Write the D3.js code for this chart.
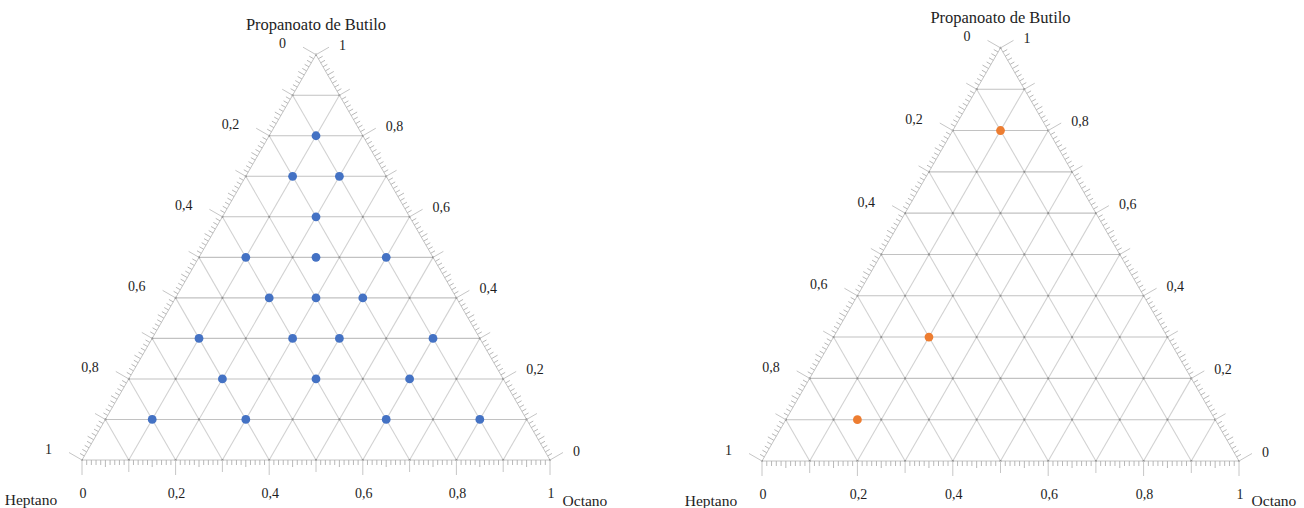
<!DOCTYPE html>
<html>
<head>
<meta charset="utf-8">
<script src="https://cdn.jsdelivr.net/npm/d3@7"></script>
<style>
  html, body { margin: 0; padding: 0; background: #fff; }
  svg { display: block; }
  text { font-family: "Liberation Serif", "Times New Roman", serif; fill: #1e1e1e; }
</style>
</head>
<body>
<svg id="chart" width="1304" height="508"></svg>
<script>
// Component names and tick labels
const apexName = "Propanoato de Butilo";
const leftName = "Heptano";
const rightName = "Octano";
const tickValues = [0, 0.2, 0.4, 0.6, 0.8, 1];
const tickLabels = ["0", "0,2", "0,4", "0,6", "0,8", "1"];

// Composition set A (mole fractions)
const setA_heptano    = [0.1, 0.2, 0.1, 0.2, 0.4, 0.25, 0.1, 0.4, 0.3, 0.2, 0.6, 0.4, 0.3, 0.1, 0.6, 0.4, 0.2, 0.8, 0.6, 0.3, 0.1];
const setA_octano     = [0.1, 0.1, 0.2, 0.2, 0.1, 0.25, 0.4, 0.2, 0.3, 0.4, 0.1, 0.3, 0.4, 0.6, 0.2, 0.4, 0.6, 0.1, 0.3, 0.6, 0.8];
const setA_propanoato = [0.8, 0.7, 0.7, 0.6, 0.5, 0.5, 0.5, 0.4, 0.4, 0.4, 0.3, 0.3, 0.3, 0.3, 0.2, 0.2, 0.2, 0.1, 0.1, 0.1, 0.1];

// Composition set B (mole fractions)
const setB_heptano    = [0.1, 0.5, 0.75];
const setB_octano     = [0.1, 0.2, 0.15];
const setB_propanoato = [0.8, 0.3, 0.1];

const svg = d3.select("#chart");

function drawTernary(panel) {
  const g = svg.append("g");
  const h = panel.width * Math.sqrt(3) / 2;
  // horizontal position follows octane + propanoate/2, vertical follows propanoate
  const xs = d3.scaleLinear().domain([0, 1]).range([panel.left, panel.left + panel.width]);
  const ys = d3.scaleLinear().domain([0, 1]).range([panel.bottom, panel.bottom - h]);
  const pos = (o, p) => [xs(o + p / 2), ys(p)];

  const gridH = "#c2c2c2", gridD = "#d2d2d2", tickCol = "#b0b0b0";
  const steps = d3.range(1, 10).map(k => k / 10);

  // grid: constant propanoate (horizontal)
  steps.forEach(k => {
    const a = pos(0, k), b = pos(1 - k, k);
    g.append("line").attr("x1", a[0]).attr("y1", a[1]).attr("x2", b[0]).attr("y2", b[1])
      .attr("stroke", gridH).attr("stroke-width", 1.1);
  });
  // grid: constant octane (parallel to left edge)
  steps.forEach(k => {
    const a = pos(k, 0), b = pos(k, 1 - k);
    g.append("line").attr("x1", a[0]).attr("y1", a[1]).attr("x2", b[0]).attr("y2", b[1])
      .attr("stroke", gridD).attr("stroke-width", 1.1);
  });
  // grid: constant heptane (parallel to right edge)
  steps.forEach(k => {
    const a = pos(1 - k, 0), b = pos(0, 1 - k);
    g.append("line").attr("x1", a[0]).attr("y1", a[1]).attr("x2", b[0]).attr("y2", b[1])
      .attr("stroke", gridD).attr("stroke-width", 1.1);
  });

  // triangle outline
  const A = pos(0, 1), L = pos(0, 0), R = pos(1, 0);
  g.append("path").attr("d", `M${A}L${L}L${R}Z`).attr("fill", "none")
    .attr("stroke", "#c4c4c4").attr("stroke-width", 1);

  // small marks at grid crossings
  const nodes = [];
  for (let i = 0; i <= 10; i++) for (let j = 0; i + j <= 10; j++) nodes.push(pos(i / 10, j / 10));
  g.selectAll("circle.node").data(nodes).enter().append("circle").attr("class", "node")
    .attr("cx", d => d[0]).attr("cy", d => d[1]).attr("r", 1.1).attr("fill", "#8f8f8f");

  // edge ticks: each edge gets a point function and an outward normal
  const c30 = Math.sqrt(3) / 2;
  const edges = [
    { at: t => pos(t, 0), n: [0, 1] },                 // octane along bottom
    { at: t => pos(1 - t, t), n: [c30, -0.5] },        // propanoate along right
    { at: t => pos(0, 1 - t), n: [-c30, -0.5] }        // heptane along left
  ];
  const fine = d3.range(0, 101).map(i => i / 100);
  edges.forEach(e => {
    fine.forEach((t, i) => {
      let len = 5, w = 0.9, col = tickCol;
      if (i % 10 === 0) { len = (i % 20 === 0) ? 15 : 12; w = 1; col = "#c6c6c6"; }
      else if (i % 5 === 0) { len = 7; }
      const p = e.at(t);
      g.append("line")
        .attr("x1", p[0]).attr("y1", p[1])
        .attr("x2", p[0] + e.n[0] * len).attr("y2", p[1] + e.n[1] * len)
        .attr("stroke", col).attr("stroke-width", w);
    });
  });

  // tick labels
  const fs = 14;
  tickValues.forEach((t, i) => {
    const b = pos(t, 0);
    g.append("text").attr("x", b[0] + 1).attr("y", b[1] + 33)
      .attr("text-anchor", "middle").attr("dominant-baseline", "central")
      .attr("font-size", fs).text(tickLabels[i]);
    const r = pos(1 - t, t);
    g.append("text").attr("x", r[0] + 23).attr("y", r[1] - 9)
      .attr("text-anchor", "start").attr("dominant-baseline", "central")
      .attr("font-size", fs).text(tickLabels[i]);
    const l = pos(0, 1 - t);
    g.append("text").attr("x", l[0] - 30).attr("y", l[1] - 11)
      .attr("text-anchor", "end").attr("dominant-baseline", "central")
      .attr("font-size", fs).text(tickLabels[i]);
  });

  // component names
  g.append("text").attr("x", A[0]).attr("y", A[1] - 30)
    .attr("text-anchor", "middle").attr("dominant-baseline", "central")
    .attr("font-size", 16.5).text(apexName);
  g.append("text").attr("x", L[0] - 51).attr("y", L[1] + 39)
    .attr("text-anchor", "middle").attr("dominant-baseline", "central")
    .attr("font-size", 15.5).text(leftName);
  g.append("text").attr("x", R[0] + 35).attr("y", Math.min(R[1] + 41, 500))
    .attr("text-anchor", "middle").attr("dominant-baseline", "central")
    .attr("font-size", 15.5).text(rightName);

  // data points
  const pts = panel.octano.map((o, i) => ({ o, p: panel.propanoato[i], hep: panel.heptano[i] }));
  g.selectAll("circle.pt").data(pts).enter().append("circle").attr("class", "pt")
    .attr("cx", d => pos(d.o, d.p)[0]).attr("cy", d => pos(d.o, d.p)[1])
    .attr("r", 4.4).attr("fill", panel.color);
}

drawTernary({ left: 82, bottom: 460, width: 468, color: "#4472c4",
  heptano: setA_heptano, octano: setA_octano, propanoato: setA_propanoato });
drawTernary({ left: 762, bottom: 461, width: 477, color: "#ed7d31",
  heptano: setB_heptano, octano: setB_octano, propanoato: setB_propanoato });
</script>
</body>
</html>
